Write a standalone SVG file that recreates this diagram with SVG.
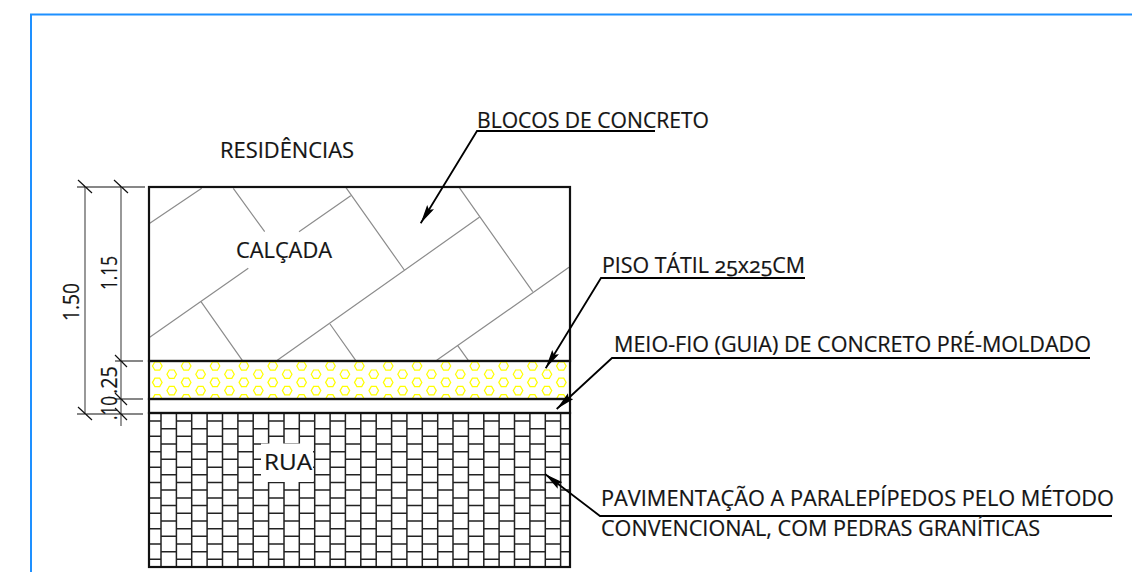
<svg xmlns="http://www.w3.org/2000/svg" width="1132" height="572" viewBox="0 0 1132 572">
<style>
text{font-family:"Open Sans","Noto Sans","Liberation Sans",sans-serif;font-size:21px;fill:#141414;stroke:#141414;stroke-width:.2;font-variant-numeric:oldstyle-nums}
.dim{font-size:22px;font-variant-numeric:lining-nums}
.b{fill:none;stroke:#111;stroke-width:2.2}
.g{fill:none;stroke:#8c8c8c;stroke-width:1.2}
.d{fill:none;stroke:#555;stroke-width:1.2}
.t{fill:none;stroke:#111;stroke-width:1.2}
.l{fill:none;stroke:#000;stroke-width:1.8}
.v{fill:none;stroke:#222;stroke-width:1.5}
.ra{fill:none;stroke:#222;stroke-width:1.5;stroke-dasharray:15.37 15.37;stroke-dashoffset:3.37}
.rb{fill:none;stroke:#222;stroke-width:1.5;stroke-dasharray:15.37 15.37}
</style>
<defs>
<marker id="a" markerUnits="userSpaceOnUse" markerWidth="20" markerHeight="10" refX="19" refY="4" orient="auto"><path d="M0 0L19 4L0 8L3 4Z" fill="#000"/></marker>
<path id="h" d="M-4.800 0L-2.400-4.200H2.400L4.800 0L2.400 4.200H-2.400Z"/>
<g id="ca"><use href="#h" y="366"/><use href="#h" y="382.400"/><use href="#h" y="398.800"/></g>
<g id="cb"><use href="#h" y="374.200"/><use href="#h" y="390.600"/></g>
<clipPath id="pc"><rect x="149" y="361" width="421" height="38"/></clipPath>
</defs>
<rect width="1132" height="572" fill="#fff"/>
<path id="frame" d="M31 572V14.500H1132" fill="none" stroke="#1e90ff" stroke-width="2"/>
<g id="calcada">
<path class="g" d="M148.300 224.300L201.700 188.300M233.300 188.300L264.700 231.700M299 231.700L350.700 195.700M346 187.700L404.300 270M459.300 187.700L532.700 291.700M277.300 360.300L479.300 217.300M148.300 338.300L248.300 268.300M201 301.700L242.300 360.300M330 324L355.700 360.300M436.700 360.300L569 267.300M457.700 345.700L468.300 360.300"/>
<rect class="b" x="149" y="187" width="421" height="174"/>
<text x="236" y="258" textLength="96" lengthAdjust="spacingAndGlyphs">CALÇADA</text>
</g>
<g id="piso-tatil">
<g clip-path="url(#pc)" fill="none" stroke="#ffff00" stroke-width="1.2">
<use href="#ca" x="157.300"/><use href="#cb" x="171.730"/><use href="#ca" x="186.160"/><use href="#cb" x="200.590"/><use href="#ca" x="215.020"/><use href="#cb" x="229.450"/><use href="#ca" x="243.880"/><use href="#cb" x="258.310"/><use href="#ca" x="272.740"/><use href="#cb" x="287.170"/><use href="#ca" x="301.600"/><use href="#cb" x="316.030"/><use href="#ca" x="330.460"/><use href="#cb" x="344.890"/><use href="#ca" x="359.320"/><use href="#cb" x="373.750"/><use href="#ca" x="388.180"/><use href="#cb" x="402.610"/><use href="#ca" x="417.040"/><use href="#cb" x="431.470"/><use href="#ca" x="445.900"/><use href="#cb" x="460.330"/><use href="#ca" x="474.760"/><use href="#cb" x="489.190"/><use href="#ca" x="503.620"/><use href="#cb" x="518.050"/><use href="#ca" x="532.480"/><use href="#cb" x="546.910"/><use href="#ca" x="561.340"/>
</g>
<rect class="b" x="149" y="361" width="421" height="38"/>
</g>
<g id="meio-fio"><rect class="b" x="149" y="399" width="421" height="14"/></g>
<g id="rua">
<path class="v" d="M161 413V567M176.400 413V567M191.700 413V567M207.100 413V567M222.500 413V567M237.900 413V567M253.200 413V567M268.600 413V567M284 413V567M299.300 413V567M314.700 413V567M330.100 413V567M345.400 413V567M360.800 413V567M376.200 413V567M391.600 413V567M406.900 413V567M422.300 413V567M437.700 413V567M453 413V567M468.400 413V567M483.800 413V567M499.100 413V567M514.500 413V567M529.900 413V567M545.300 413V567M560.600 413V567"/>
<path class="ra" d="M149 421H570M149 436.300H570M149 451.700H570M149 467.200H570M149 482.600H570M149 498H570M149 513.300H570M149 528.700H570M149 544H570M149 559.300H570"/>
<path class="rb" d="M161 428.700H570M161 444H570M161 459.300H570M161 474.700H570M161 490H570M161 505.500H570M161 520.900H570M161 536.300H570M161 551.700H570"/>
<rect x="261" y="443.500" width="52" height="38.500" fill="#fff"/>
<rect class="b" x="149" y="413" width="421" height="154"/>
<text x="264" y="470" textLength="48" lengthAdjust="spacingAndGlyphs">RUA</text>
</g>
<g id="residencias"><text x="220" y="158" textLength="134" lengthAdjust="spacingAndGlyphs">RESIDÊNCIAS</text></g>
<g id="dimensions">
<path class="d" d="M85 187V414M121 187V426"/>
<path class="t" d="M77 187H145M115 361H143M115 399H143M77 414H143M78 180L92 193M114 180L128 193M115 355L127 367M115 393L127 405M115 408L127 420M78 407L92 420"/>
<text class="dim" transform="translate(79 321) rotate(-90)" textLength="38" lengthAdjust="spacingAndGlyphs">1.50</text>
<text class="dim" transform="translate(117 290) rotate(-90)" textLength="34" lengthAdjust="spacingAndGlyphs">1.15</text>
<text class="dim" transform="translate(117 394) rotate(-90)" textLength="28" lengthAdjust="spacingAndGlyphs">.25</text>
<text class="dim" transform="translate(117 420) rotate(-90)" textLength="24" lengthAdjust="spacingAndGlyphs">.10</text>
</g>
<g id="connectors">
<path class="l" marker-end="url(#a)" d="M655 131H477L420.700 223.300"/>
<path class="l" marker-end="url(#a)" d="M805 278H601L545.700 368.300"/>
<path class="l" marker-end="url(#a)" d="M1090 358H612L556.700 409"/>
<path class="l" marker-end="url(#a)" d="M1112 516H600L545 474"/>
</g>
<g id="labels">
<text x="477" y="128" textLength="232" lengthAdjust="spacingAndGlyphs">BLOCOS DE CONCRETO</text>
<text x="602" y="273" textLength="203" lengthAdjust="spacingAndGlyphs">PISO TÁTIL 25x25CM</text>
<text x="614" y="352" textLength="477" lengthAdjust="spacingAndGlyphs">MEIO-FIO (GUIA) DE CONCRETO PRÉ-MOLDADO</text>
<text x="601" y="506" textLength="513" lengthAdjust="spacingAndGlyphs">PAVIMENTAÇÃO A PARALEPÍPEDOS PELO MÉTODO</text>
<text x="601" y="536" textLength="439" lengthAdjust="spacingAndGlyphs">CONVENCIONAL, COM PEDRAS GRANÍTICAS</text>
</g>
</svg>
